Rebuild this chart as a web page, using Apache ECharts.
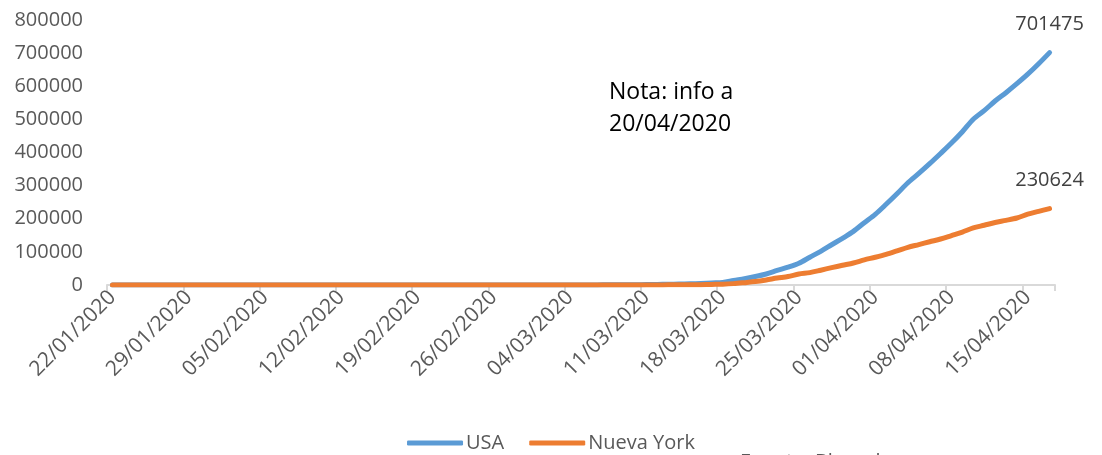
<!DOCTYPE html>
<html>
<head>
<meta charset="utf-8">
<script src="https://cdn.jsdelivr.net/npm/echarts@6/dist/echarts.min.js"></script>
<style>
html,body{margin:0;padding:0;background:#fff;}
#chart{width:1102px;height:455px;}
</style>
</head>
<body>
<div id="chart"></div>
<script>
const categories = [
"22/01/2020","23/01/2020","24/01/2020","25/01/2020","26/01/2020","27/01/2020","28/01/2020","29/01/2020","30/01/2020","31/01/2020",
"01/02/2020","02/02/2020","03/02/2020","04/02/2020","05/02/2020","06/02/2020","07/02/2020","08/02/2020","09/02/2020","10/02/2020",
"11/02/2020","12/02/2020","13/02/2020","14/02/2020","15/02/2020","16/02/2020","17/02/2020","18/02/2020","19/02/2020","20/02/2020",
"21/02/2020","22/02/2020","23/02/2020","24/02/2020","25/02/2020","26/02/2020","27/02/2020","28/02/2020","29/02/2020",
"01/03/2020","02/03/2020","03/03/2020","04/03/2020","05/03/2020","06/03/2020","07/03/2020","08/03/2020","09/03/2020","10/03/2020",
"11/03/2020","12/03/2020","13/03/2020","14/03/2020","15/03/2020","16/03/2020","17/03/2020","18/03/2020","19/03/2020","20/03/2020",
"21/03/2020","22/03/2020","23/03/2020","24/03/2020","25/03/2020","26/03/2020","27/03/2020","28/03/2020","29/03/2020","30/03/2020","31/03/2020",
"01/04/2020","02/04/2020","03/04/2020","04/04/2020","05/04/2020","06/04/2020","07/04/2020","08/04/2020","09/04/2020","10/04/2020",
"11/04/2020","12/04/2020","13/04/2020","14/04/2020","15/04/2020","16/04/2020","17/04/2020"
];
const usa = [
1,1,2,2,5,5,5,5,5,7,
8,8,11,11,11,11,11,11,11,11,12,12,13,13,13,13,13,13,13,13,15,15,15,51,51,57,58,60,68,
74,98,118,149,217,262,402,518,583,959,1281,1663,2179,2727,3499,4632,6421,7783,13747,19273,
25600,33276,43847,53740,65778,83836,101657,121465,140909,161831,188172,
213242,243622,275367,308650,336802,366317,397121,428654,462780,500535,
526396,555313,580619,607670,636350,667801,701475
];
const nuevaYork = [
0,0,0,0,0,0,0,0,0,0,
0,0,0,0,0,0,0,0,0,0,0,0,0,0,0,0,0,0,0,0,0,0,0,0,0,0,0,0,0,
1,1,2,11,22,44,89,106,142,173,217,326,421,610,732,950,1700,2382,4152,7102,
10356,15168,20875,25665,33066,37258,44635,52318,59513,66497,75795,
83712,92381,102863,113704,122031,130689,138863,149316,159937,172512,
180458,188694,195031,202208,213779,222284,230624
];
const yTicks = [0,100000,200000,300000,400000,500000,600000,700000,800000];
const seriesNames = ["USA","Nueva York"];
const noteLines = ["Nota: info a","20/04/2020"];
const sourceText = "Fuente: Bloomberg";

const FONT = "'Open Sans', 'Liberation Sans', sans-serif";
const LABEL = '#595959';

function endMark(arr){
  const i = arr.length-1;
  return {
    symbol:'circle', symbolSize:1, silent:true,
    itemStyle:{color:'rgba(0,0,0,0)'},
    label:{show:true, position:'top', distance:18, formatter:String(arr[i]),
      fontFamily:FONT, fontSize:20, color:'#404040'},
    data:[{coord:[categories[i], arr[i]], value:arr[i]}]
  };
}

const chart = echarts.init(document.getElementById('chart'), null, {renderer:'canvas'});
chart.setOption({
  animation:false,
  backgroundColor:'#ffffff',
  textStyle:{fontFamily:FONT},
  grid:{left:107, right:47, top:20, bottom:170, containLabel:false},
  legend:{
    data:seriesNames,
    top:428, left:'center',
    icon:'roundRect', itemWidth:56, itemHeight:5, itemGap:25,
    textStyle:{fontFamily:FONT, fontSize:20, color:LABEL, padding:[0,0,0,-2]}
  },
  xAxis:{
    type:'category',
    data:categories,
    boundaryGap:true,
    axisLine:{lineStyle:{color:'#d9d9d9', width:2}},
    axisTick:{show:true, interval:6, alignWithLabel:false, length:6, lineStyle:{color:'#d9d9d9', width:2}},
    axisLabel:{interval:6, rotate:45, margin:9, fontFamily:FONT, fontSize:21, color:LABEL},
    splitLine:{show:false}
  },
  yAxis:{
    type:'value',
    min:yTicks[0], max:yTicks[yTicks.length-1], interval:yTicks[1]-yTicks[0],
    axisLine:{show:false},
    axisTick:{show:false},
    splitLine:{show:false},
    axisLabel:{margin:24, fontFamily:FONT, fontSize:20, color:LABEL, formatter:v=>String(v)}
  },
  series:[
    {name:seriesNames[0], type:'line', data:usa, symbol:'none', smooth:0.3,
     lineStyle:{color:'#5B9BD5', width:5, cap:'round', join:'round'}, itemStyle:{color:'#5B9BD5'}, z:2,
     markPoint:endMark(usa)},
    {name:seriesNames[1], type:'line', data:nuevaYork, symbol:'none', smooth:0.3,
     lineStyle:{color:'#ED7D31', width:5, cap:'round', join:'round'}, itemStyle:{color:'#ED7D31'}, z:3,
     markPoint:endMark(nuevaYork)}
  ],
  graphic:[
    {type:'text', left:609, top:76, style:{text:noteLines.join('\n'), fontFamily:FONT, fontSize:23, lineHeight:32, fill:'#000000'}},
    {type:'text', left:740, top:452, style:{text:sourceText, fontFamily:FONT, fontSize:20, fill:LABEL}}
  ]
});
</script>
</body>
</html>
